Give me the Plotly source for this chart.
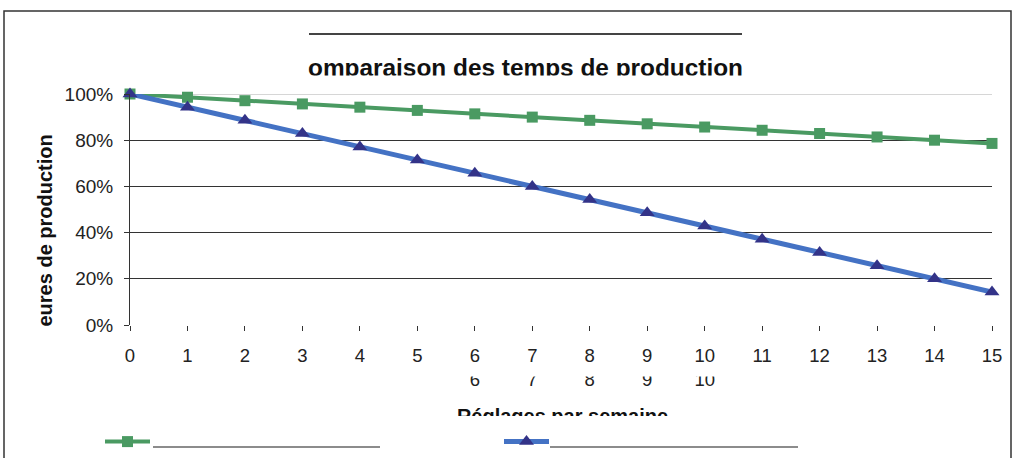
import plotly.graph_objects as go

W, H = 1013, 458

# ---- data ----
REGLAGES = [0, 1, 2, 3, 4, 5, 6, 7, 8, 9, 10, 11, 12, 13, 14, 15]
SERIE_VERTE = [100, 98.6, 97.1, 95.7, 94.3, 92.9, 91.4, 90.0, 88.6, 87.1, 85.7, 84.3, 82.9, 81.4, 80.0, 78.6]
SERIE_BLEUE = [100, 94.3, 88.6, 82.9, 77.1, 71.4, 65.7, 60.0, 54.3, 48.6, 42.9, 37.1, 31.4, 25.7, 20.0, 14.3]
Y_TICKS = [0, 20, 40, 60, 80, 100]
Y_TICK_LABELS = ["0%", "20%", "40%", "60%", "80%", "100%"]
SECOND_ROW = [6, 7, 8, 9, 10]
TITLE = "omparaison des temps de production"
Y_TITLE = "eures de production"
X_TITLE = "Réglages par semaine"

FONT = "Liberation Sans, Arial, sans-serif"
GREEN = "#4a9a62"
BLUE_LINE = "#4472c4"
BLUE_MARK = "#333388"


def py(p):
    return 1 - p / H


def px(p):
    return p / W


fig = go.Figure()

fig.add_trace(go.Scatter(
    x=REGLAGES, y=SERIE_VERTE, mode="lines+markers", name=" ",
    line=dict(color=GREEN, width=4),
    marker=dict(symbol="square", size=11, color=GREEN),
    cliponaxis=False,
))
fig.add_trace(go.Scatter(
    x=REGLAGES, y=SERIE_BLEUE, mode="lines+markers", name=" ",
    line=dict(color=BLUE_LINE, width=5),
    marker=dict(symbol="triangle-up", size=13, color=BLUE_MARK),
    cliponaxis=False,
))

# clipped title (subplot 2, pixel units)
fig.add_trace(go.Scatter(
    x=[525.5], y=[69.5], mode="text", text=[f"<b>{TITLE}</b>"],
    textfont=dict(family=FONT, size=24.4, color="#111"),
    textposition="middle center", cliponaxis=True, showlegend=False,
    xaxis="x2", yaxis="y2", hoverinfo="skip",
))
# clipped second row of x labels (subplot 3)
fig.add_trace(go.Scatter(
    x=SECOND_ROW, y=[381.5] * len(SECOND_ROW), mode="text",
    text=[str(v) for v in SECOND_ROW],
    textfont=dict(family=FONT, size=18.5, color="#222"),
    textposition="middle center", cliponaxis=True, showlegend=False,
    xaxis="x3", yaxis="y3", hoverinfo="skip",
))
# clipped x title (subplot 4)
fig.add_trace(go.Scatter(
    x=[562.5], y=[418], mode="text", text=[f"<b>{X_TITLE}</b>"],
    textfont=dict(family=FONT, size=20, color="#111"),
    textposition="middle center", cliponaxis=True, showlegend=False,
    xaxis="x4", yaxis="y4", hoverinfo="skip",
))

x_dom = [px(130), px(992)]
y_dom = [py(325), py(94)]

fig.update_layout(
    width=W, height=H,
    margin=dict(l=0, r=0, t=0, b=0, pad=0, autoexpand=False),
    paper_bgcolor="white", plot_bgcolor="white",
    font=dict(family=FONT, size=18, color="#222"),
    showlegend=True,
    legend=dict(
        orientation="h", x=px(100), xanchor="left", y=py(442), yanchor="middle",
        font=dict(size=14), itemwidth=45, entrywidth=339, entrywidthmode="pixels",
        bgcolor="rgba(0,0,0,0)", traceorder="normal",
    ),
    xaxis=dict(
        domain=x_dom, range=[0, 15], tickvals=REGLAGES, automargin=False,
        showgrid=False, zeroline=False, showline=False,
        ticks="outside", ticklen=5, tickcolor="#333", tickwidth=1,
        ticklabelstandoff=9, tickfont=dict(size=18.5, color="#222"),
        fixedrange=True,
    ),
    yaxis=dict(
        domain=y_dom, range=[0, 100], tickvals=Y_TICKS, ticktext=Y_TICK_LABELS, automargin=False,
        showgrid=True, gridcolor="#333", gridwidth=1, zeroline=False,
        showline=True, linecolor="#333", linewidth=1,
        ticks="outside", ticklen=5, tickcolor="#333", tickwidth=1,
        ticklabelstandoff=7, tickfont=dict(size=19, color="#222"),
        fixedrange=True,
    ),
    xaxis2=dict(domain=[0, 1], range=[0, W], visible=False, anchor="y2", fixedrange=True),
    yaxis2=dict(domain=[py(75.5), py(40)], range=[75.5, 40], visible=False, anchor="x2", fixedrange=True),
    xaxis3=dict(domain=x_dom, range=[0, 15], visible=False, anchor="y3", fixedrange=True),
    yaxis3=dict(domain=[py(400), py(376.5)], range=[400, 376.5], visible=False, anchor="x3", fixedrange=True),
    xaxis4=dict(domain=[0, 1], range=[0, W], visible=False, anchor="y4", fixedrange=True),
    yaxis4=dict(domain=[py(416), py(400)], range=[416, 400], visible=False, anchor="x4", fixedrange=True),
)

shapes = [
    # outer frame
    dict(type="rect", xref="paper", yref="paper", x0=px(4), x1=px(1011), y0=-0.2, y1=py(11),
         line=dict(color="#333", width=1.5), fillcolor="rgba(0,0,0,0)", layer="above"),
    # line above the title
    dict(type="line", xref="paper", yref="paper", x0=px(309), x1=px(742), y0=py(34), y1=py(34),
         line=dict(color="#444", width=2)),
    # light top gridline
    dict(type="line", xref="x", yref="y", x0=0, x1=15, y0=100, y1=100,
         line=dict(color="#c8c8c8", width=1.5), layer="between"),
    # legend underlines
    dict(type="line", xref="paper", yref="paper", x0=px(153), x1=px(380), y0=py(447), y1=py(447),
         line=dict(color="#666", width=1.5)),
    dict(type="line", xref="paper", yref="paper", x0=px(550), x1=px(798), y0=py(447), y1=py(447),
         line=dict(color="#666", width=1.5)),
]
fig.update_layout(shapes=shapes)

fig.add_annotation(
    text=f"<b>{Y_TITLE}</b>", xref="paper", yref="paper", x=px(44.5), y=py(231),
    xanchor="center", yanchor="middle", textangle=-90, showarrow=False,
    font=dict(family=FONT, size=20, color="#111"),
)

fig.write_html(
    "out.html",
    config={"displayModeBar": False, "staticPlot": True},
    post_script="document.body.style.margin='0';document.body.style.padding='0';"
                "document.body.style.overflow='hidden';",
)
